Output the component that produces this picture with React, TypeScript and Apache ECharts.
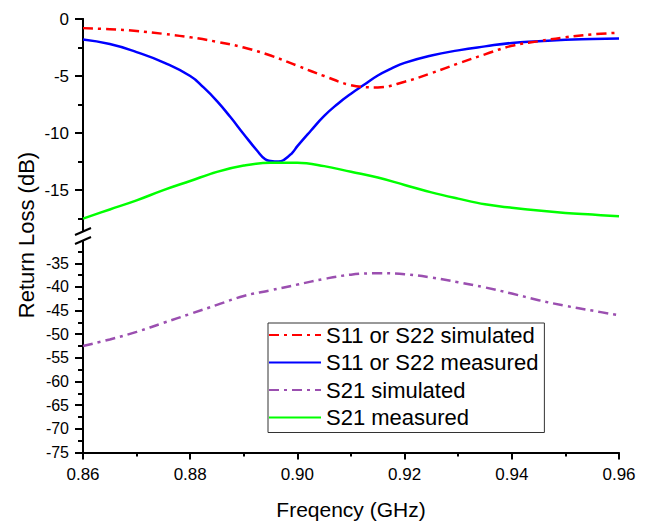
import React, { useEffect, useRef } from "react";
import * as echarts from "echarts";

// Frequencies (GHz) for simulated curves and S21 measured
const FREQ = [
  0.86, 0.865, 0.87, 0.875, 0.88, 0.885, 0.89, 0.895, 0.9, 0.905, 0.91,
  0.915, 0.92, 0.925, 0.93, 0.935, 0.94, 0.945, 0.95, 0.955, 0.96,
];
const S11_SIM = [
  -0.8, -0.9, -1.05, -1.3, -1.6, -2.0, -2.5, -3.2, -4.1, -5.0, -5.8,
  -6.0, -5.5, -4.75, -3.9, -3.1, -2.35, -1.95, -1.6, -1.35, -1.2,
];
const S21_MEAS = [
  -17.5, -16.7, -15.9, -15.0, -14.2, -13.4, -12.85, -12.6, -12.6, -12.9, -13.4,
  -13.9, -14.55, -15.2, -15.75, -16.25, -16.55, -16.8, -17.0, -17.15, -17.3,
];
const S21_SIM = [
  -52.5, -51.1, -49.5, -47.6, -45.7, -43.8, -41.9, -40.7, -39.5, -38.3, -37.4,
  -37.1, -37.3, -38.0, -39.0, -40.1, -41.4, -42.8, -44.0, -45.0, -46.0,
];
// S11 measured uses a finer frequency grid around the dip
const FREQ_S11_MEAS = [
  0.86, 0.865, 0.87, 0.875, 0.88, 0.8825, 0.885, 0.8875, 0.89, 0.8925, 0.894,
  0.895, 0.8965, 0.8975, 0.899, 0.9, 0.9025, 0.905, 0.9075, 0.91, 0.9125,
  0.915, 0.9175, 0.92, 0.925, 0.93, 0.935, 0.94, 0.945, 0.95, 0.955, 0.96,
];
const S11_MEAS = [
  -1.8, -2.2, -2.9, -3.8, -5.0, -6.0, -7.2, -8.6, -10.1, -11.55, -12.3,
  -12.45, -12.5, -12.35, -11.75, -11.15, -9.8, -8.5, -7.45, -6.55, -5.75,
  -4.95, -4.35, -3.85, -3.2, -2.75, -2.4, -2.1, -1.95, -1.82, -1.76, -1.7,
];

const X_TICKS_MIN = 0.86;
const X_TICKS_MAX = 0.96;
const UPPER_MAJOR = [0, -5, -10, -15];
const UPPER_MINOR = [-2.5, -7.5, -12.5, -17.5];
const LOWER_MAJOR = [-35, -40, -45, -50, -55, -60, -65, -70, -75];
const LOWER_MINOR = [-32.5, -37.5, -42.5, -47.5, -52.5, -57.5, -62.5, -67.5, -72.5];

const NAMES = [
  "S11 or S22 simulated",
  "S11 or S22 measured",
  "S21 simulated",
  "S21 measured",
];

const FONT = "'Liberation Sans', Arial, sans-serif";

function pairs(xs: number[], ys: number[]) {
  return xs.map((x, i) => [x, ys[i]]);
}

export default function App() {
  const ref = useRef<HTMLDivElement>(null);
  useEffect(() => {
    const chart = echarts.init(ref.current!, null, { renderer: "svg" });
    const axisLine = { show: true, lineStyle: { color: "#000", width: 2 } };
    const yMajor = (grid: number, min: number, max: number, vals: number[], fs: number) => ({
      type: "value",
      gridIndex: grid,
      position: "left",
      offset: 0,
      min,
      max,
      axisLine,
      splitLine: { show: false },
      axisTick: { show: true, length: 8, customValues: vals, lineStyle: { color: "#000", width: 2 } },
      axisLabel: {
        customValues: vals,
        color: "#000",
        fontSize: fs,
        fontFamily: FONT,
        margin: 14,
      },
    });
    const yMinor = (grid: number, min: number, max: number, vals: number[]) => ({
      type: "value",
      gridIndex: grid,
      position: "left",
      offset: 0,
      min,
      max,
      axisLine,
      splitLine: { show: false },
      axisTick: { show: true, length: 5, customValues: vals, lineStyle: { color: "#000", width: 2 } },
      axisLabel: { show: false },
    });
    chart.setOption({
      animation: false,
      backgroundColor: "#fff",
      grid: [
        { left: 83, top: 19, width: 536, height: 211 },
        { left: 83, top: 242, width: 536, height: 210.5 },
      ],
      xAxis: [
        { type: "value", gridIndex: 0, min: X_TICKS_MIN, max: X_TICKS_MAX, show: false },
        {
          type: "value",
          gridIndex: 1,
          min: X_TICKS_MIN,
          max: X_TICKS_MAX,
          interval: 0.02,
          axisLine,
          splitLine: { show: false },
          axisTick: { show: true, length: 7, lineStyle: { color: "#000", width: 2 } },
          minorTick: { show: true, splitNumber: 2, length: 4, lineStyle: { color: "#000", width: 2 } },
          minorSplitLine: { show: false },
          axisLabel: {
            color: "#000",
            fontSize: 17,
            fontFamily: FONT,
            margin: 13,
            formatter: (v: number) => v.toFixed(2),
          },
          name: "Freqency (GHz)",
          nameLocation: "middle",
          nameGap: 46,
          nameTextStyle: { color: "#000", fontSize: 21, fontFamily: FONT },
        },
      ],
      yAxis: [
        yMajor(0, -18.5, 0, UPPER_MAJOR, 17),
        yMinor(0, -18.5, 0, UPPER_MINOR),
        yMajor(1, -75, -30.5, LOWER_MAJOR, 16),
        yMinor(1, -75, -30.5, LOWER_MINOR),
      ],
      legend: {
        orient: "vertical",
        left: 268,
        top: 323,
        data: NAMES,
        itemWidth: 52,
        itemHeight: 14,
        itemGap: 5.5,
        padding: [1, 6, 4, 0],
        borderColor: "#333",
        borderWidth: 1,
        backgroundColor: "#fff",
        itemStyle: { opacity: 0 },
        textStyle: { color: "#000", fontSize: 22, lineHeight: 22, fontFamily: FONT },
      },
      graphic: [
        {
          type: "text",
          x: 26,
          y: 235,
          rotation: Math.PI / 2,
          style: {
            text: "Return Loss (dB)",
            fontSize: 22,
            fontFamily: FONT,
            fill: "#000",
            textAlign: "center",
            textVerticalAlign: "middle",
          },
        },
        { type: "line", shape: { x1: 75, y1: 235, x2: 91, y2: 228 }, style: { stroke: "#000", lineWidth: 2 } },
        { type: "line", shape: { x1: 75, y1: 244, x2: 91, y2: 237 }, style: { stroke: "#000", lineWidth: 2 } },
      ],
      series: [
        {
          name: NAMES[0],
          type: "line",
          xAxisIndex: 0,
          yAxisIndex: 0,
          data: pairs(FREQ, S11_SIM),
          smooth: 0.4,
          symbol: "none",
          lineStyle: { color: "#ff0000", width: 2.5, type: [10, 5, 3, 5] },
          itemStyle: { color: "#ff0000" },
          z: 3,
        },
        {
          name: NAMES[1],
          type: "line",
          xAxisIndex: 0,
          yAxisIndex: 0,
          data: pairs(FREQ_S11_MEAS, S11_MEAS),
          smooth: 0.5,
          symbol: "none",
          lineStyle: { color: "#0000ff", width: 2.5 },
          itemStyle: { color: "#0000ff" },
          z: 2,
        },
        {
          name: NAMES[2],
          type: "line",
          xAxisIndex: 1,
          yAxisIndex: 2,
          data: pairs(FREQ, S21_SIM),
          smooth: 0.4,
          symbol: "none",
          lineStyle: { color: "#9b4fb0", width: 2.5, type: [10, 5, 3, 5] },
          itemStyle: { color: "#9b4fb0" },
        },
        {
          name: NAMES[3],
          type: "line",
          xAxisIndex: 0,
          yAxisIndex: 0,
          data: pairs(FREQ, S21_MEAS),
          smooth: 0.4,
          symbol: "none",
          lineStyle: { color: "#00ff00", width: 2.5 },
          itemStyle: { color: "#00ff00" },
        },
      ],
    });
    return () => chart.dispose();
  }, []);
  return (
    <div
      ref={ref}
      style={{ position: "fixed", left: 0, top: 0, width: 653, height: 521, background: "#fff" }}
    />
  );
}
